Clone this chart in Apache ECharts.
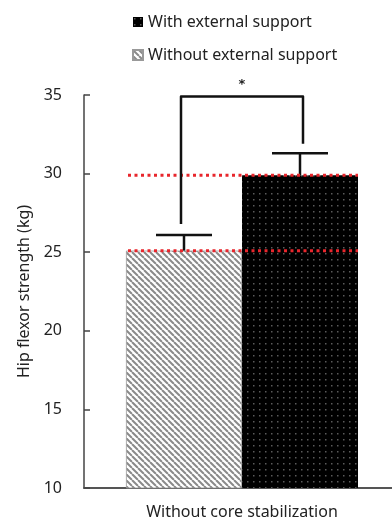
<!DOCTYPE html>
<html>
<head>
<meta charset="utf-8">
<script src="https://cdn.jsdelivr.net/npm/echarts@6/dist/echarts.min.js"></script>
<style>
  html, body { margin: 0; padding: 0; background: #fff; }
  #chart { width: 392px; height: 523px; }
</style>
</head>
<body>
<div id="chart"></div>
<script>
// data
const categories = ["Without core stabilization"];
const seriesNames = ["Without external support", "With external support"];
const means = [25.1, 29.9];
const upperErr = [26.1, 31.3];
const bracket = { top: 34.9, leftEnd: 26.8, rightEnd: 31.9 };
const yTicks = { min: 10, max: 35, step: 5 };

const FONT = "Noto Sans";
const BAR_W = 116;

// fill patterns
function hatchPattern() {
  const s = 6;
  const c = document.createElement("canvas");
  c.width = s; c.height = s;
  const g = c.getContext("2d");
  g.fillStyle = "#fff";
  g.fillRect(0, 0, s, s);
  g.strokeStyle = "#8a8a8a";
  g.lineWidth = 2;
  for (let k = -1; k <= 1; k++) {
    g.beginPath();
    g.moveTo(k * s, 0);
    g.lineTo(k * s + s, s);
    g.stroke();
  }
  return { image: c, repeat: "repeat" };
}
function dotPattern() {
  const s = 6;
  const c = document.createElement("canvas");
  c.width = s * 2; c.height = s * 2;
  const g = c.getContext("2d");
  g.fillStyle = "#000";
  g.fillRect(0, 0, s * 2, s * 2);
  g.fillStyle = "#5a5a5a";
  g.fillRect(1, 1, 1.5, 1.5);
  g.fillRect(s + 1, s + 1, 1.5, 1.5);
  g.fillRect(s + 1, 1, 1.5, 1.5);
  g.fillRect(1, s + 1, 1.5, 1.5);
  return { image: c, repeat: "repeat" };
}

const fills = [hatchPattern(), dotPattern()];

let myChart = echarts.init(document.getElementById("chart"));

function offsetX(i) {
  return i === 0 ? -BAR_W / 2 : BAR_W / 2;
}

myChart.setOption({
  animation: false,
  textStyle: { fontFamily: FONT },
  legend: {
    data: [seriesNames[1], seriesNames[0]],
    orient: "vertical",
    left: 127,
    top: 9,
    itemWidth: 10,
    itemHeight: 10,
    itemGap: 17,
    icon: "rect",
    textStyle: { fontSize: 16, color: "#222", fontFamily: FONT }
  },
  grid: { left: 84, top: 95, right: -8, bottom: 35, outerBoundsMode: "none" },
  xAxis: {
    type: "category",
    data: categories,
    axisTick: { show: false },
    axisLine: { lineStyle: { color: "#555", width: 2 } },
    axisLabel: { fontSize: 16, color: "#222", margin: 16, fontFamily: FONT }
  },
  yAxis: {
    type: "value",
    min: yTicks.min,
    max: yTicks.max,
    interval: yTicks.step,
    name: "Hip flexor strength (kg)",
    nameLocation: "middle",
    nameGap: 42,
    nameTextStyle: { fontSize: 16, color: "#222", fontFamily: FONT },
    splitLine: { show: false },
    axisLine: { show: true, lineStyle: { color: "#444", width: 1.5 } },
    axisTick: { show: true, inside: true, length: 6, lineStyle: { color: "#444", width: 1.5 } },
    axisLabel: { fontSize: 16, color: "#222", margin: 22, fontFamily: FONT }
  },
  series: [
    {
      name: seriesNames[0],
      type: "bar",
      data: [means[0]],
      barWidth: BAR_W,
      barGap: "0%",
      itemStyle: { color: fills[0], borderColor: "#999", borderWidth: 0.8 }
    },
    {
      name: seriesNames[1],
      type: "bar",
      data: [means[1]],
      barWidth: BAR_W,
      barGap: "0%",
      itemStyle: { color: fills[1] }
    },
    {
      // red dotted mean lines + error bars
      type: "custom",
      silent: true,
      z: 5,
      data: means.map((m, i) => [i, m, upperErr[i]]),
      renderItem: function (params, api) {
        const i = api.value(0);
        const pMean = api.coord([0, api.value(1)]);
        const pUp = api.coord([0, api.value(2)]);
        const x = pMean[0] + offsetX(i);
        const left = pMean[0] - BAR_W;
        const right = pMean[0] + BAR_W;
        const cap = 28;
        const black = { stroke: "#111", lineWidth: 2.5 };
        return {
          type: "group",
          children: [
            { type: "line", shape: { x1: x, y1: pMean[1], x2: x, y2: pUp[1] }, style: black },
            { type: "line", shape: { x1: x - cap, y1: pUp[1], x2: x + cap, y2: pUp[1] }, style: black },
            {
              type: "line",
              z2: 10,
              shape: { x1: left + 2, y1: pMean[1], x2: right, y2: pMean[1] },
              style: { stroke: "#e8262c", lineWidth: 3, lineDash: [3, 3.5], lineCap: "butt" }
            }
          ]
        };
      }
    },
    {
      // significance bracket with star
      type: "custom",
      silent: true,
      z: 6,
      data: [[0, bracket.top, bracket.leftEnd, bracket.rightEnd]],
      renderItem: function (params, api) {
        const top = api.coord([0, api.value(1)]);
        const l = api.coord([0, api.value(2)]);
        const r = api.coord([0, api.value(3)]);
        const xl = top[0] + offsetX(0) - 3;
        const xr = top[0] + offsetX(1) + 3;
        const st = { stroke: "#111", lineWidth: 2.5, fill: null, lineJoin: "round" };
        return {
          type: "group",
          children: [
            {
              type: "polyline",
              shape: { points: [[xl, l[1]], [xl, top[1]], [xr, top[1]], [xr, r[1]]] },
              style: st
            },
            {
              type: "text",
              style: {
                text: "*",
                x: (xl + xr) / 2,
                y: top[1] - 18,
                align: "center",
                verticalAlign: "top",
                fontSize: 13,
                fontWeight: "bold",
                fill: "#222",
                fontFamily: "DejaVu Sans"
              }
            }
          ]
        };
      }
    }
  ]
});
</script>
</body>
</html>
